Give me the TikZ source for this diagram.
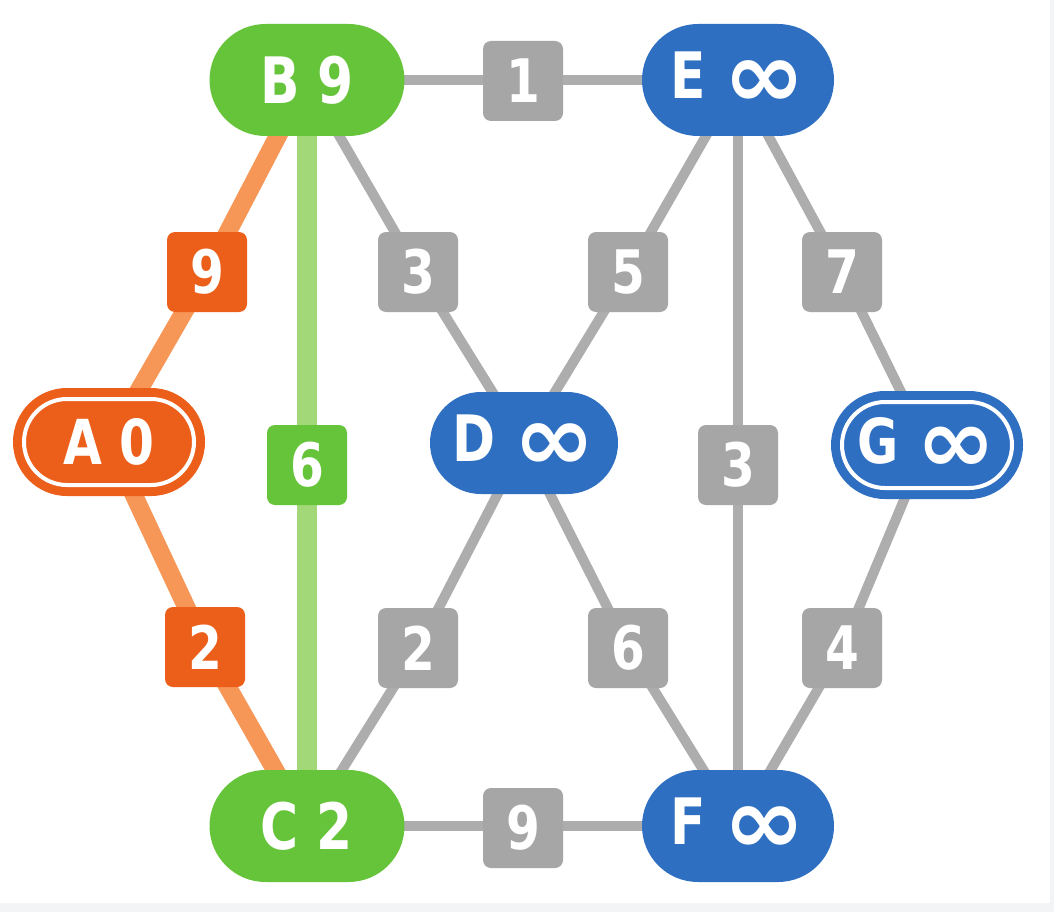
\documentclass[tikz,border=0pt]{standalone}
\usepackage{fontspec}
\setmainfont{DejaVu Sans Condensed}[BoldFont={DejaVu Sans Condensed Bold},BoldFeatures={FakeStretch=0.9}]
\usetikzlibrary{shapes.misc}
\definecolor{cgreen}{HTML}{66C43A}
\definecolor{cblue}{HTML}{2E6FC2}
\definecolor{corange}{HTML}{EC5F1A}
\definecolor{cgray}{HTML}{A6A6A6}
\definecolor{lgray}{HTML}{ADADAD}
\definecolor{lgreen}{HTML}{A2D878}
\definecolor{lorange}{HTML}{F69758}
\definecolor{strip}{HTML}{F3F4F6}
\newcommand\infsym{\raisebox{-9pt}{\scalebox{1.9}[1.45]{\char"221E}}}
\pgfdeclarelayer{bg}
\pgfdeclarelayer{edges}
\pgfdeclarelayer{boxes}
\pgfsetlayers{bg,edges,boxes,main}
\begin{document}
\begin{tikzpicture}[x=1pt,y=-1pt,
  vert/.style={rounded rectangle, minimum width=192pt, minimum height=112pt,
    inner sep=0pt, text=white, fill=#1,
    font=\fontsize{64}{64}\selectfont\bfseries},
  dvert/.style={rounded rectangle, minimum width=170pt, minimum height=86pt,
    inner sep=0pt, text=white, fill=#1, draw=white, line width=4pt,
    preaction={draw=#1, line width=22pt},
    font=\fontsize{62}{62}\selectfont\bfseries},
  wbox/.style={rectangle, rounded corners=8pt, minimum width=80pt, minimum height=80pt,
    inner sep=0pt, text=white, fill=#1,
    font=\fontsize{60}{60}\selectfont\bfseries},
  gedge/.style={draw=lgray, line width=10pt},
  oedge/.style={draw=lorange, line width=18pt},
  pedge/.style={draw=lgreen, line width=20pt}]
\useasboundingbox (0,0) rectangle (1054,912);
\begin{pgfonlayer}{bg}
\fill[white] (0,0) rectangle (1054,912);
\fill[strip] (0,903) rectangle (1054,912);
\fill[strip] (1050,0) rectangle (1054,912);
\end{pgfonlayer}

\node[dvert=corange] (A) at (109,442) {A 0};
\node[vert=cgreen, minimum width=195pt] (B) at (307,80) {B 9};
\node[vert=cgreen, minimum width=195pt] (C) at (307,826) {C 2};
\node[vert=cblue, minimum width=188pt, minimum height=102pt] (D) at (524,443) {D \infsym};
\node[vert=cblue] (E) at (738,80) {E \infsym};
\node[vert=cblue] (F) at (738,826) {F \infsym};
\node[dvert=cblue] (G) at (927,445) {G \infsym};

\begin{pgfonlayer}{boxes}
\node[wbox=corange] (wab) at (207,272) {9};
\node[wbox=corange] (wac) at (205,647) {2};
\node[wbox=cgreen]  (wbc) at (307,465) {6};
\node[wbox=cgray]   (wbe) at (523,81)  {1};
\node[wbox=cgray]   (wbd) at (418,272) {3};
\node[wbox=cgray]   (wed) at (628,272) {5};
\node[wbox=cgray]   (weg) at (842,272) {7};
\node[wbox=cgray]   (wef) at (738,465) {3};
\node[wbox=cgray]   (wdc) at (418,648) {2};
\node[wbox=cgray]   (wdf) at (628,648) {6};
\node[wbox=cgray]   (wgf) at (842,648) {4};
\node[wbox=cgray]   (wcf) at (523,828) {9};
\end{pgfonlayer}

\begin{pgfonlayer}{edges}
\draw[oedge] (A.center) -- (wab.center) -- (B.center);
\draw[oedge] (A.center) -- (wac.center) -- (C.center);
\draw[pedge] (B.center) -- (wbc.center) -- (C.center);
\draw[gedge] (B.center) -- (E.center);
\draw[gedge] (B.center) -- (wbd.center) -- (D.center);
\draw[gedge] (E.center) -- (wed.center) -- (D.center);
\draw[gedge] (E.center) -- (weg.center) -- (G.center);
\draw[gedge] (E.center) -- (wef.center) -- (F.center);
\draw[gedge] (D.center) -- (wdc.center) -- (C.center);
\draw[gedge] (D.center) -- (wdf.center) -- (F.center);
\draw[gedge] (G.center) -- (wgf.center) -- (F.center);
\draw[gedge] (C.center) -- (F.center);
\end{pgfonlayer}
\end{tikzpicture}
\end{document}
